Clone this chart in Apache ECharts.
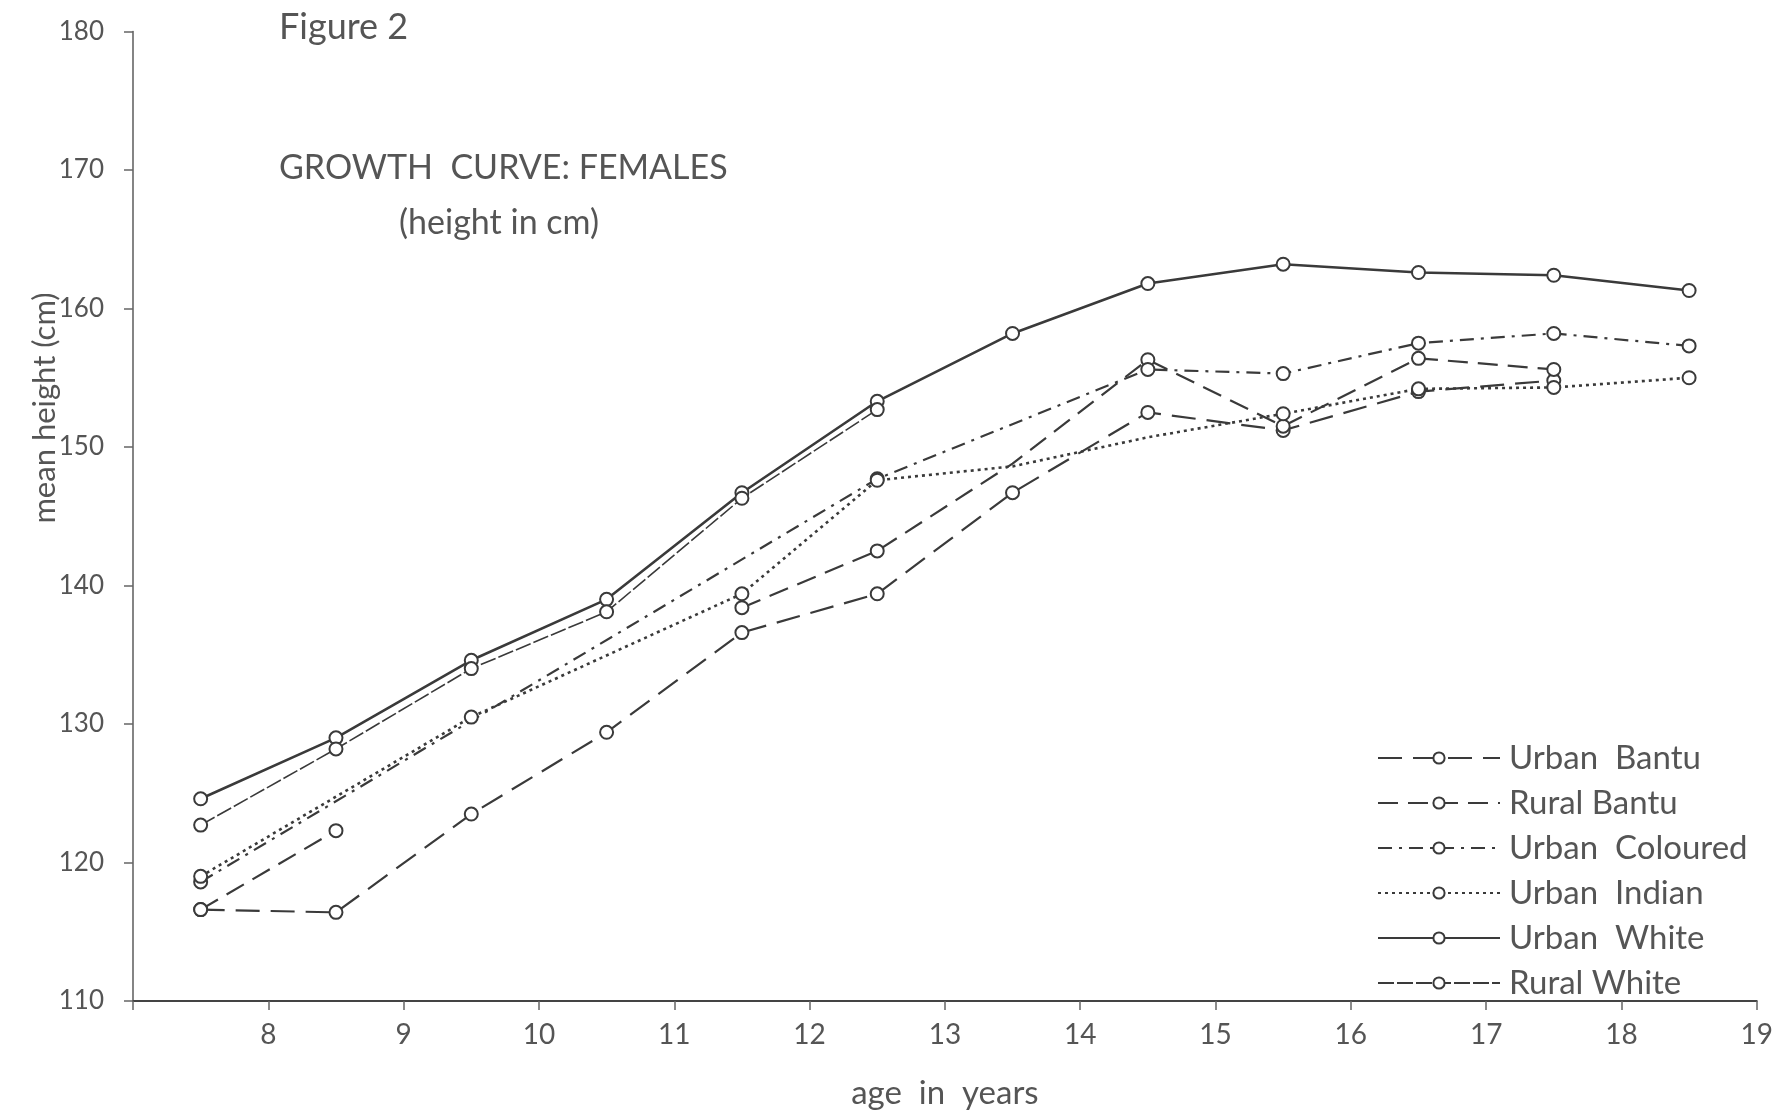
<!DOCTYPE html>
<html>
<head>
<meta charset="utf-8">
<script src="https://cdn.jsdelivr.net/npm/echarts@6/dist/echarts.min.js"></script>
<style>html,body{margin:0;padding:0;background:#fff}#c{width:1776px;height:1115px}</style>
</head>
<body>
<div id="c"></div>
<script>
// ages (years) at which mean heights were plotted
const ages = [7.5, 8.5, 9.5, 10.5, 11.5, 12.5, 13.5, 14.5, 15.5, 16.5, 17.5, 18.5];
// mean height (cm); null = no value plotted at that age
const urbanBantu    = [116.6, 116.4, 123.5, 129.4, 136.6, 139.4, 146.7, 152.5, 151.2, 154.0, 154.8, null];
const ruralBantu    = [116.6, 122.3, null, null, 138.4, 142.5, 148.8, 156.3, 151.5, 156.4, 155.6, null];
const urbanColoured = [118.6, null, null, null, null, 147.7, null, 155.6, 155.3, 157.5, 158.2, 157.3];
const urbanIndian   = [119.0, null, 130.5, null, 139.4, 147.6, 148.6, 150.7, 152.4, 154.2, 154.3, 155.0];
const urbanWhite    = [124.6, 129.0, 134.6, 139.0, 146.7, 153.3, 158.2, 161.8, 163.2, 162.6, 162.4, 161.3];
const ruralWhite    = [122.7, 128.2, 134.0, 138.1, 146.3, 152.7, null, null, null, null, null, null];
const yTicks = [110, 120, 130, 140, 150, 160, 170, 180];
const xTicks = [8, 9, 10, 11, 12, 13, 14, 15, 16, 17, 18, 19];

const INK = '#3a3a3a';
const FONT = 'Lato, "DejaVu Sans", sans-serif';

const seriesDefs = [
  {name: 'Urban  Bantu',    vals: urbanBantu,    dash: [24, 11], width: 2.2, connect: true,  unmarked: []},
  {name: 'Rural Bantu',     vals: ruralBantu,    dash: [20, 10], width: 2.2, connect: false, unmarked: [13.5]},
  {name: 'Urban  Coloured', vals: urbanColoured, dash: [14, 7, 3, 7], width: 2.2, connect: true, unmarked: []},
  {name: 'Urban  Indian',   vals: urbanIndian,   dash: [3, 4], width: 2.6, connect: true,  unmarked: [13.5, 14.5]},
  {name: 'Urban  White',    vals: urbanWhite,    dash: 'solid', width: 2.6, connect: true, unmarked: []},
  {name: 'Rural White',     vals: ruralWhite,    dash: [16, 3], width: 1.6, connect: true, unmarked: []}
];

function buildData(d) {
  const out = [];
  ages.forEach((a, i) => {
    const v = d.vals[i];
    if (v == null) {
      if (!d.connect) out.push([a, '-']);
      return;
    }
    if (d.unmarked.indexOf(a) >= 0) out.push({value: [a, v], symbol: 'none'});
    else out.push([a, v]);
  });
  return out;
}

const series = seriesDefs.map(d => ({
  name: d.name,
  type: 'line',
  data: buildData(d),
  connectNulls: false,
  symbol: 'emptyCircle',
  symbolSize: 13,
  showAllSymbol: true,
  lineStyle: {color: INK, width: d.width, type: d.dash},
  itemStyle: {color: INK, borderColor: INK, borderWidth: 1.6},
  emphasis: {disabled: true},
  z: 3
}));

const chart = echarts.init(document.getElementById('c'), null, {renderer: 'canvas'});
chart.setOption({
  animation: false,
  backgroundColor: '#ffffff',
  title: [
    {text: 'Figure 2', left: 274, top: 4, textStyle: {fontFamily: FONT, fontSize: 36, fontWeight: 'normal', color: '#555'}},
    {text: 'GROWTH  CURVE: FEMALES', left: 274, top: 146, textStyle: {fontFamily: FONT, fontSize: 34, fontWeight: 'normal', color: '#555'}},
    {text: '(height in cm)', left: 394, top: 201, textStyle: {fontFamily: FONT, fontSize: 34, fontWeight: 'normal', color: '#555'}}
  ],
  grid: {left: 133, right: 16, top: 31.5, bottom: 114, containLabel: false},
  xAxis: {
    type: 'value', min: 7, max: 19, interval: 1,
    name: 'age  in  years', nameLocation: 'middle', nameGap: 76,
    nameTextStyle: {fontFamily: FONT, fontSize: 33, color: '#555'},
    axisLine: {show: true, lineStyle: {color: '#444', width: 2}},
    axisTick: {show: true, length: 9, lineStyle: {color: '#666', width: 1.5}},
    axisLabel: {
      fontFamily: FONT, fontSize: 28, color: '#555', margin: 20,
      formatter: v => (xTicks.indexOf(v) >= 0 ? String(v) : '')
    },
    splitLine: {show: false}
  },
  yAxis: {
    type: 'value', min: 110, max: 180, interval: 10,
    axisLine: {show: true, lineStyle: {color: '#666', width: 1.6}},
    axisTick: {show: true, length: 9, lineStyle: {color: '#666', width: 1.5}},
    axisLabel: {
      fontFamily: FONT, fontSize: 26, color: '#555', margin: 29,
      formatter: v => (yTicks.indexOf(v) >= 0 ? String(v) : '')
    },
    splitLine: {show: false}
  },
  legend: {
    orient: 'vertical', left: 1372, top: 736,
    itemWidth: 122, itemHeight: 14, itemGap: 11,
    textStyle: {fontFamily: FONT, fontSize: 33, color: '#555', lineHeight: 34, padding: [0, 0, 0, 4]},
    data: seriesDefs.map(d => d.name),
    selectedMode: false
  },
  graphic: [
    {type: 'text', x: 45, y: 408, rotation: Math.PI / 2,
     style: {text: 'mean height (cm)', fontFamily: FONT, fontSize: 31, fill: '#555', align: 'center', verticalAlign: 'middle'}}
  ],
  series: series
});
</script>
</body>
</html>
